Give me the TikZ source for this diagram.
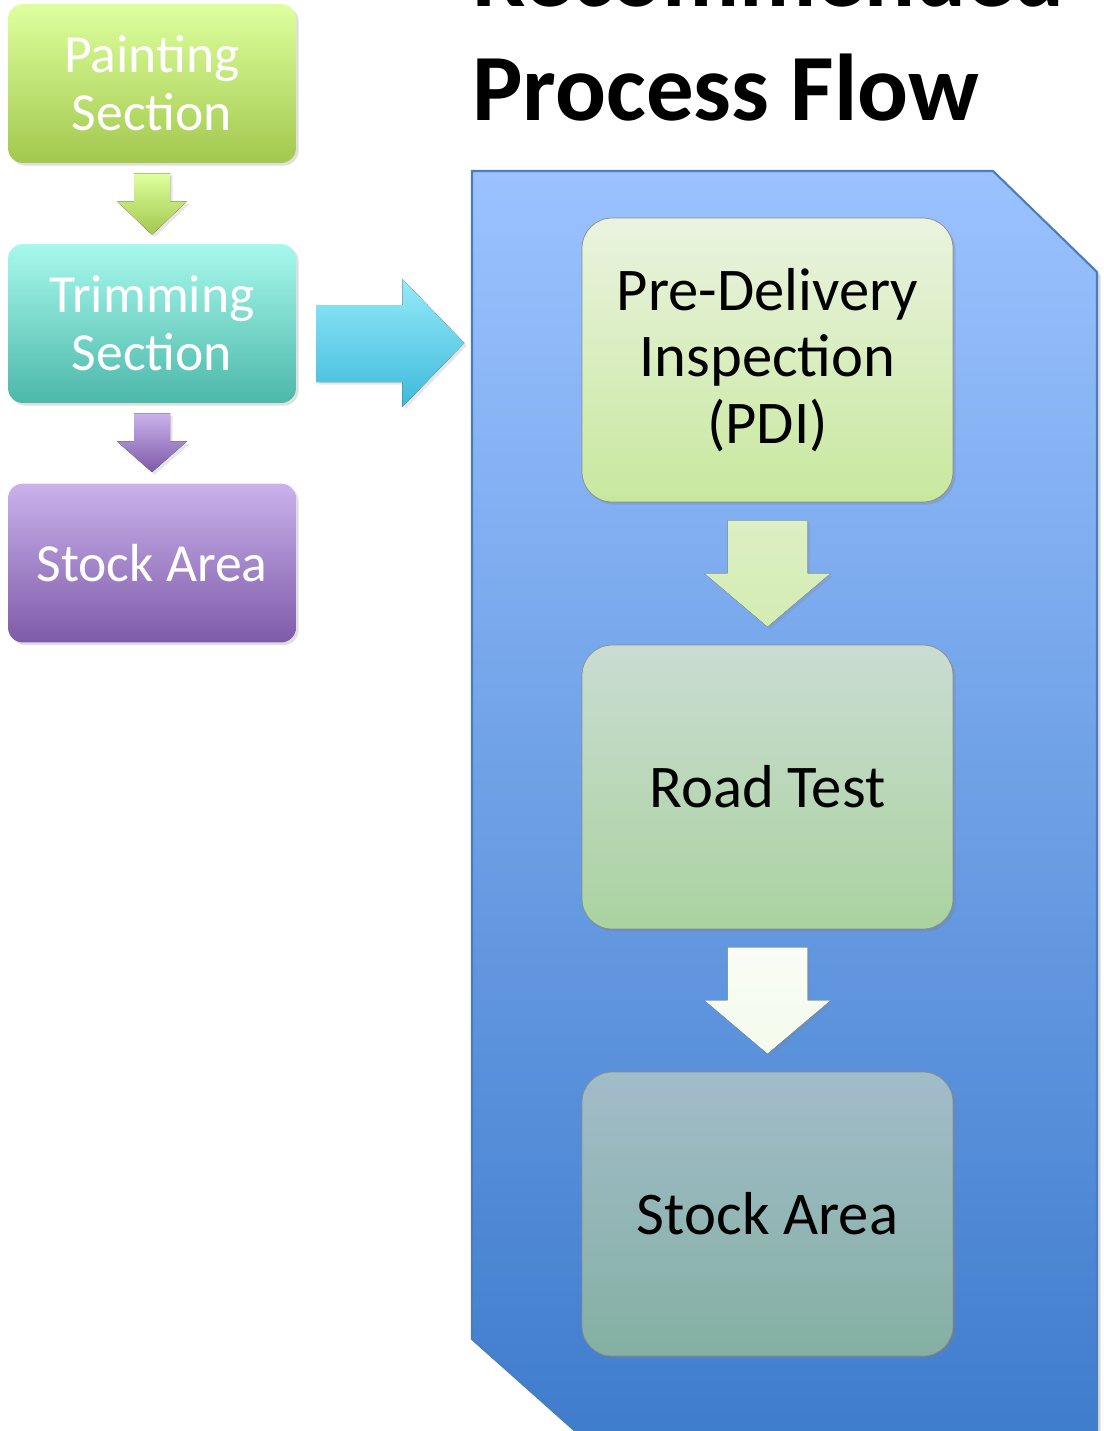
\documentclass[tikz,border=0pt]{standalone}
\usepackage{fontspec}
\setmainfont{Carlito}
\usetikzlibrary{calc,shadows}

\definecolor{paintTop}{RGB}{222,255,158}
\definecolor{paintBot}{RGB}{163,200,78}
\definecolor{trimTop}{RGB}{168,248,236}
\definecolor{trimBot}{RGB}{76,184,170}
\definecolor{stockTop}{RGB}{202,178,236}
\definecolor{stockBot}{RGB}{126,90,168}
\definecolor{cyanTop}{RGB}{148,234,250}
\definecolor{cyanBot}{RGB}{62,186,218}
\definecolor{panelTop}{RGB}{155,194,255}
\definecolor{panelBot}{RGB}{62,124,204}
\definecolor{panelLine}{RGB}{74,126,187}
\definecolor{pdiTop}{RGB}{234,243,224}
\definecolor{pdiBot}{RGB}{200,232,158}
\definecolor{roadTop}{RGB}{202,220,210}
\definecolor{roadBot}{RGB}{170,211,160}
\definecolor{stkTop}{RGB}{162,188,202}
\definecolor{stkBot}{RGB}{132,176,162}

\begin{document}
\begin{tikzpicture}[x=0.02cm,y=-0.02cm,
  leftbox/.style={rounded corners=0.3cm,minimum width=5.76cm,minimum height=3.18cm,
    text=white,align=center,font=\fontsize{30.5}{33}\selectfont,
    drop shadow={opacity=0.25,shadow xshift=1.5pt,shadow yshift=-1.5pt}},
  rightbox/.style={rounded corners=0.6cm,minimum width=7.42cm,minimum height=5.68cm,
    draw=black!45,line width=0.4pt,align=center,font=\fontsize{34.5}{38}\selectfont,
    drop shadow={opacity=0.3,shadow xshift=1.5pt,shadow yshift=-1.5pt}},
  blockarrow/.style={drop shadow={opacity=0.2,shadow xshift=1.5pt,shadow yshift=-1.5pt}}]
\useasboundingbox (0,0) rectangle (1103,1431);

% title, first line runs off the top
\node[anchor=base west,font=\bfseries\fontsize{54}{66}\selectfont,inner sep=0pt] (title) at (472,120) {Process Flow};
\node[anchor=base west,font=\bfseries\fontsize{54}{66}\selectfont,inner sep=0pt] (title2) at (472,6) {Recommended};

% old flow
\node[leftbox,top color=paintTop,bottom color=paintBot] (paint) at (152,83.5) {Painting\\Section};
\node[leftbox,top color=trimTop,bottom color=trimBot] (trim) at (152,323.5) {Trimming\\Section};
\node[leftbox,top color=stockTop,bottom color=stockBot] (stockL) at (152,563) {Stock Area};

\fill[blockarrow,top color=paintTop,bottom color=paintBot]
  ($(paint.south)+(-18,10)$) -- ++(36,0) -- ++(0,28) -- ++(17,0) -- ($(trim.north)+(0,-9)$)
  -- ($(paint.south)+(-35,38)$) -- ++(17,0) -- cycle;
\fill[blockarrow,top color=stockTop,bottom color=stockBot]
  ($(trim.south)+(-18,10)$) -- ++(36,0) -- ++(0,28) -- ++(17,0) -- ($(stockL.north)+(0,-11)$)
  -- ($(trim.south)+(-35,38)$) -- ++(17,0) -- cycle;

% big arrow
\fill[blockarrow,top color=cyanTop,bottom color=cyanBot]
  ($(trim.east)+(20,-18.5)$) -- ++(86,0) -- ++(0,-26) -- ($(trim.east)+(168,19.5)$)
  -- ($(trim.east)+(106,83.5)$) -- ++(0,-25) -- ++(-86,0) -- cycle;

% recommended flow
\draw[panelLine,line width=1.2pt,top color=panelTop,bottom color=panelBot,
  drop shadow={opacity=0.3,shadow xshift=2pt,shadow yshift=-2pt}]
  (472,171) coordinate (panel) -- (993,171) -- (1097,272) -- (1097,1445) -- (591,1445) -- (472,1339) -- cycle;

\node[rightbox,top color=pdiTop,bottom color=pdiBot] (pdi) at (767.5,360) {Pre-Delivery\\Inspection\\(PDI)};
\node[rightbox,top color=roadTop,bottom color=roadBot] (road) at (767.5,787) {Road Test};
\node[rightbox,top color=stkTop,bottom color=stkBot] (stockR) at (767.5,1214) {Stock Area};

\fill[blockarrow,top color=pdiTop!60!pdiBot,bottom color=pdiBot!80!white]
  ($(pdi.south)+(-40,18)$) -- ++(80,0) -- ++(0,53) -- ++(23,0) -- ($(road.north)+(0,-18)$)
  -- ($(pdi.south)+(-63,71)$) -- ++(23,0) -- cycle;
\fill[blockarrow,top color=white!90!pdiBot,bottom color=white!80!pdiBot]
  ($(road.south)+(-40,18)$) -- ++(80,0) -- ++(0,53) -- ++(23,0) -- ($(stockR.north)+(0,-18)$)
  -- ($(road.south)+(-63,71)$) -- ++(23,0) -- cycle;
\end{tikzpicture}
\end{document}
